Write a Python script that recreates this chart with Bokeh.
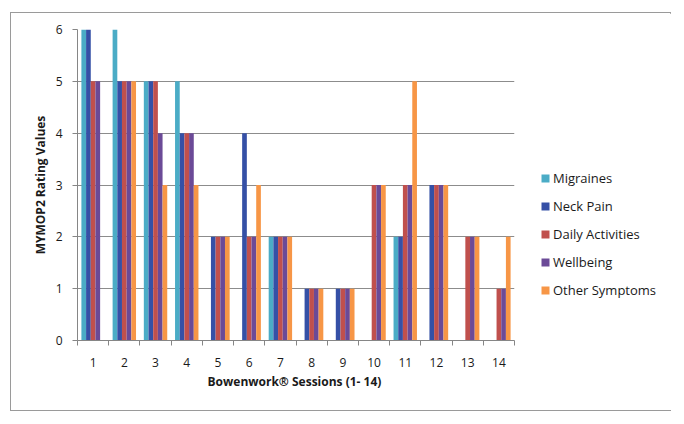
from bokeh.plotting import figure
from bokeh.models import ColumnDataSource, FixedTicker, Legend, LegendItem, Range1d
from bokeh.embed import file_html
from bokeh.resources import INLINE

sessions = [str(i) for i in range(1, 15)]
series = ["Migraines", "Neck Pain", "Daily Activities", "Wellbeing", "Other Symptoms"]
migraines = [6, 6, 5, 5, 0, 0, 2, 0, 0, 0, 2, 0, 0, 0]
neck_pain = [6, 5, 5, 4, 2, 4, 2, 1, 1, 0, 2, 3, 0, 0]
daily_activities = [5, 5, 5, 4, 2, 2, 2, 1, 1, 3, 3, 3, 2, 1]
wellbeing = [5, 5, 4, 4, 2, 2, 2, 1, 1, 3, 3, 3, 2, 1]
other_symptoms = [0, 5, 3, 3, 2, 3, 2, 1, 1, 3, 5, 3, 2, 2]
colors = ["#4BACC6", "#3550A6", "#C0504D", "#6B4A97", "#F79646"]
y_ticks = [0, 1, 2, 3, 4, 5, 6]

values = [migraines, neck_pain, daily_activities, wellbeing, other_symptoms]

FONT = "Open Sans"
W, H = 659, 397
left, top, fw, fh = 66, 16, 437, 311

p = figure(frame_width=fw, frame_height=fh, output_backend="svg", toolbar_location=None,
           x_range=Range1d(0.5, 14.5), y_range=Range1d(0, 6),
           min_border_left=left, min_border_top=top,
           min_border_right=W - left - fw, min_border_bottom=H - top - fh)
p.styles = {"border": "1px solid #9a9a9a", "margin-left": "10px", "margin-top": "12px",
            "width": f"{W}px", "height": f"{H}px", "box-sizing": "content-box"}
p.outline_line_color = None

bw = 0.15
renderers = []
for k, (name, vals, col) in enumerate(zip(series, values, colors)):
    xs = [i + 1 + (k - 2) * bw for i in range(len(sessions))]
    src = ColumnDataSource(dict(x=xs, top=vals))
    r = p.vbar(x="x", top="top", width=bw, bottom=0, source=src,
               fill_color=col, line_color=None)
    renderers.append(LegendItem(label=name, renderers=[r]))

centers = list(range(1, 15))
p.xaxis.ticker = FixedTicker(ticks=centers, minor_ticks=[i + 0.5 for i in range(0, 15)])
p.xaxis.major_label_overrides = {i: s for i, s in zip(centers, sessions)}
p.xaxis.major_tick_out = 0
p.xaxis.major_tick_in = 0
p.xaxis.minor_tick_out = 5
p.xaxis.minor_tick_in = 0
p.xaxis.minor_tick_line_color = "#868686"
p.xaxis.axis_line_color = "#868686"
p.xaxis.major_label_standoff = 12
p.xaxis.axis_label = "Bowenwork\u00ae  Sessions (1- 14)"
p.xaxis.axis_label_standoff = 3

p.yaxis.ticker = FixedTicker(ticks=y_ticks)
p.yaxis.minor_tick_line_color = None
p.yaxis.major_tick_out = 5
p.yaxis.major_tick_in = 0
p.yaxis.major_tick_line_color = "#868686"
p.yaxis.axis_line_color = "#868686"
p.yaxis.major_label_standoff = 10
p.yaxis.axis_label = "MYMOP2 Rating Values"
p.yaxis.axis_label_standoff = 4

for ax in (p.xaxis, p.yaxis):
    ax.major_label_text_font = FONT
    ax.major_label_text_font_size = "12px"
    ax.major_label_text_color = "#1a1a1a"
    ax.axis_label_text_font = FONT
    ax.axis_label_text_font_size = "12px"
    ax.axis_label_text_font_style = "bold"
    ax.axis_label_text_color = "#1a1a1a"

p.xgrid.grid_line_color = None
p.ygrid.ticker = FixedTicker(ticks=y_ticks[1:])
p.ygrid.grid_line_color = "#8c8c8c"

legend = Legend(items=renderers, location=(26, 40))
legend.border_line_color = None
legend.background_fill_alpha = 0
legend.label_text_font = FONT
legend.label_text_font_size = "13px"
legend.label_text_color = "#1a1a1a"
legend.glyph_width = 10
legend.glyph_height = 10
legend.label_standoff = 3
legend.spacing = 8
legend.label_height = 20
legend.padding = 4
p.add_layout(legend, "right")

open("out.html", "w").write(file_html(p, INLINE))
